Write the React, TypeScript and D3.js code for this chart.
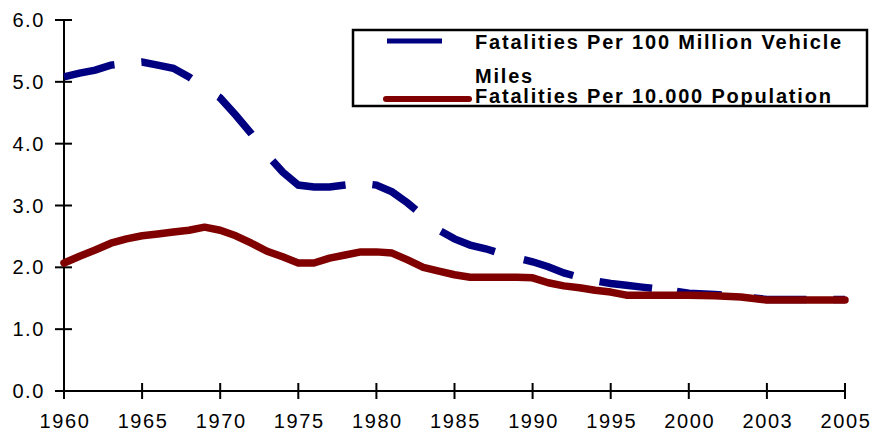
import React, { useEffect, useRef } from "react";
import * as d3 from "d3";

// yearly data
const years = [
  1960, 1961, 1962, 1963, 1964, 1965, 1966, 1967, 1968, 1969,
  1970, 1971, 1972, 1973, 1974, 1975, 1976, 1977, 1978, 1979,
  1980, 1981, 1982, 1983, 1984, 1985, 1986, 1987, 1988, 1989,
  1990, 1991, 1992, 1993, 1994, 1995, 1996, 1997, 1998, 1999,
  2000, 2001, 2002, 2003, 2004, 2005,
];

const perVehicleMiles = [
  5.08, 5.14, 5.19, 5.27, 5.3, 5.32, 5.27, 5.22, 5.08, 4.9,
  4.74, 4.46, 4.16, 3.82, 3.54, 3.33, 3.3, 3.3, 3.33, 3.36,
  3.33, 3.22, 3.04, 2.83, 2.6, 2.46, 2.36, 2.3, 2.22, 2.15,
  2.09, 2.01, 1.91, 1.84, 1.78, 1.74, 1.71, 1.68, 1.65, 1.62,
  1.58, 1.56, 1.53, 1.48, 1.48, 1.48,
];

const perPopulation = [
  2.07, 2.18, 2.28, 2.39, 2.46, 2.51, 2.54, 2.57, 2.6, 2.65,
  2.6, 2.51, 2.39, 2.26, 2.17, 2.07, 2.07, 2.15, 2.2, 2.25,
  2.25, 2.23, 2.12, 2.0, 1.94, 1.88, 1.84, 1.84, 1.84, 1.84,
  1.83, 1.75, 1.7, 1.67, 1.63, 1.6, 1.55, 1.55, 1.55, 1.55,
  1.55, 1.54, 1.52, 1.47, 1.47, 1.47,
];

// category ticks on the x axis (evenly spaced, as in the original)
const xTickYears = [1960, 1965, 1970, 1975, 1980, 1985, 1990, 1995, 2000, 2003, 2005];
const yTicks = [0, 1, 2, 3, 4, 5, 6];

const seriesNames = [
  "Fatalities Per 100 Million Vehicle",
  "Miles",
  "Fatalities Per 10.000 Population",
];

// dash pattern of the vehicle-miles line, as the original draws it
const dashPattern = "52,27,53,33,50,34,83,27,51,33,58,30,52,27,53,25,45,32,53,27";

const width = 875;
const height = 434;
const left = 64;
const right = 845;
const top = 20;
const bottom = 391;
const font = "'Liberation Sans', Arial, sans-serif";

export default function App() {
  const ref = useRef<SVGSVGElement>(null);

  useEffect(() => {
    const svg = d3.select(ref.current);
    svg.selectAll("*").remove();

    const step = (right - left) / (xTickYears.length - 1);
    const x = d3.scaleLinear()
      .domain([1960, 2000, 2003, 2005])
      .range([left, left + 8 * step, left + 9 * step, right]);
    const y = d3.scaleLinear().domain([0, 6]).range([bottom, top]);

    svg.append("rect").attr("width", width).attr("height", height).attr("fill", "white");

    const g = svg.append("g");

    // axes
    g.append("line")
      .attr("x1", left).attr("x2", left)
      .attr("y1", y(6)).attr("y2", bottom)
      .attr("stroke", "black").attr("stroke-width", 2);
    g.append("line")
      .attr("x1", left).attr("x2", right)
      .attr("y1", bottom).attr("y2", bottom)
      .attr("stroke", "black").attr("stroke-width", 2);

    g.selectAll(".ytick")
      .data(yTicks)
      .enter()
      .append("line")
      .attr("x1", left - 9).attr("x2", left + 8)
      .attr("y1", (d) => y(d)).attr("y2", (d) => y(d))
      .attr("stroke", "black").attr("stroke-width", 2);

    g.selectAll(".ylabel")
      .data(yTicks)
      .enter()
      .append("text")
      .attr("x", 45)
      .attr("y", (d) => y(d) + 7)
      .attr("text-anchor", "end")
      .style("font-family", font)
      .style("font-size", "20px")
      .style("letter-spacing", "1.6px")
      .text((d) => d.toFixed(1));

    g.selectAll(".xtick")
      .data(xTickYears)
      .enter()
      .append("line")
      .attr("x1", (d) => x(d)).attr("x2", (d) => x(d))
      .attr("y1", bottom - 8).attr("y2", bottom + 8)
      .attr("stroke", "black").attr("stroke-width", 2);

    g.selectAll(".xlabel")
      .data(xTickYears)
      .enter()
      .append("text")
      .attr("x", (d) => x(d) + 1)
      .attr("y", 428)
      .attr("text-anchor", "middle")
      .style("font-family", font)
      .style("font-size", "20px")
      .style("letter-spacing", "1.6px")
      .text((d) => String(d));

    const line = d3.line<number>()
      .x((d, i) => x(years[i]))
      .y((d) => y(d));

    g.append("path")
      .attr("d", line(perVehicleMiles))
      .attr("fill", "none")
      .attr("stroke", "#000080")
      .attr("stroke-width", 7.5)
      .attr("stroke-dasharray", dashPattern);

    g.append("path")
      .attr("d", line(perPopulation))
      .attr("fill", "none")
      .attr("stroke", "#800000")
      .attr("stroke-width", 7.5)
      .attr("stroke-linejoin", "round")
      .attr("stroke-linecap", "round");

    // legend
    svg.append("clipPath").attr("id", "legend-clip")
      .append("rect")
      .attr("x", 353).attr("y", 30).attr("width", 514).attr("height", 76);

    const legend = svg.append("g");
    legend.append("rect")
      .attr("x", 353).attr("y", 30).attr("width", 514).attr("height", 76)
      .attr("fill", "white");

    legend.append("line")
      .attr("x1", 387).attr("x2", 442).attr("y1", 41).attr("y2", 41)
      .attr("stroke", "#000080").attr("stroke-width", 5);
    legend.append("line")
      .attr("x1", 386).attr("x2", 469).attr("y1", 99).attr("y2", 99)
      .attr("stroke", "#800000").attr("stroke-width", 6)
      .attr("stroke-linecap", "round");

    const textG = legend.append("g").attr("clip-path", "url(#legend-clip)");
    const baselines = [49, 83, 103];
    textG.selectAll("text")
      .data(seriesNames)
      .enter()
      .append("text")
      .attr("x", 475)
      .attr("y", (d, i) => baselines[i])
      .style("font-family", font)
      .style("font-size", "20px")
      .style("font-weight", "bold")
      .style("letter-spacing", "1.8px")
      .text((d) => d);

    legend.append("rect")
      .attr("x", 353).attr("y", 30).attr("width", 514).attr("height", 76)
      .attr("fill", "none")
      .attr("stroke", "black").attr("stroke-width", 2.5);
  }, []);

  return (
    <svg
      ref={ref}
      width={width}
      height={height}
      style={{ position: "absolute", left: 0, top: 0 }}
    ></svg>
  );
}
